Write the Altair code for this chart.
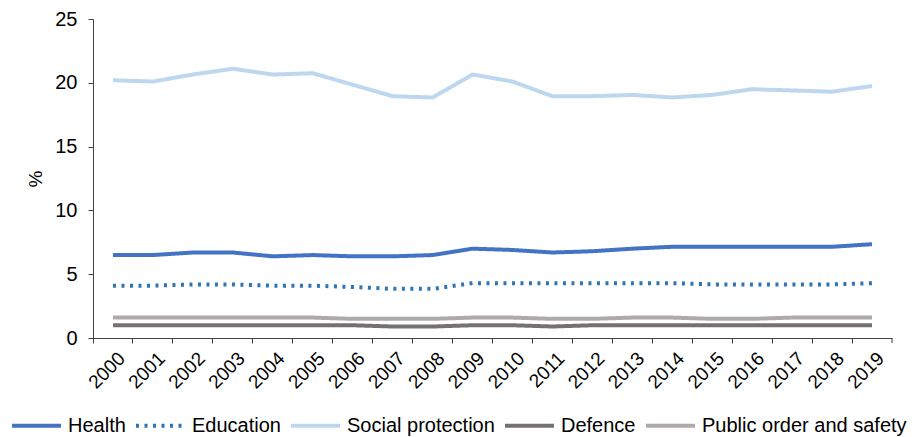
import altair as alt
import pandas as pd

years = ["2000", "2001", "2002", "2003", "2004", "2005", "2006", "2007", "2008", "2009",
         "2010", "2011", "2012", "2013", "2014", "2015", "2016", "2017", "2018", "2019"]
series = ["Health", "Education", "Social protection", "Defence", "Public order and safety"]

health = [6.5, 6.5, 6.7, 6.7, 6.4, 6.5, 6.4, 6.4, 6.5, 7.0, 6.9, 6.7, 6.8, 7.0, 7.15, 7.15, 7.15, 7.15, 7.15, 7.35]
education = [4.1, 4.1, 4.2, 4.2, 4.1, 4.1, 4.0, 3.85, 3.85, 4.3, 4.3, 4.3, 4.3, 4.3, 4.3, 4.2, 4.2, 4.2, 4.2, 4.3]
social = [20.2, 20.1, 20.65, 21.1, 20.65, 20.75, 19.85, 18.95, 18.85, 20.65, 20.1, 18.95, 18.95, 19.05, 18.85, 19.05, 19.5, 19.4, 19.3, 19.75]
defence = [1.0, 1.0, 1.0, 1.0, 1.0, 1.0, 1.0, 0.9, 0.9, 1.0, 1.0, 0.9, 1.0, 1.0, 1.0, 1.0, 1.0, 1.0, 1.0, 1.0]
public = [1.6, 1.6, 1.6, 1.6, 1.6, 1.6, 1.5, 1.5, 1.5, 1.6, 1.6, 1.5, 1.5, 1.6, 1.6, 1.5, 1.5, 1.6, 1.6, 1.6]

colors = ["#4472C4", "#2E75B6", "#BDD7EE", "#767171", "#AEAAAA"]
dashes = [[1, 0], [3, 5.5], [1, 0], [1, 0], [1, 0]]

rows = []
for name, vals in zip(series, [health, education, social, defence, public]):
    for yr, v in zip(years, vals):
        rows.append({"Year": yr, "Series": name, "Value": v})
df = pd.DataFrame(rows)

W, H = 799, 319
FONT = "Liberation Sans"
AX = "#404040"

legend_opts = dict(
    title=None, orient="none", legendX=-83, legendY=380, direction="horizontal",
    columns=5, symbolType="stroke", symbolSize=2401, symbolStrokeWidth=4,
    labelFont=FONT, labelFontSize=20, labelColor="#000000", labelOffset=5,
    columnPadding=2, padding=0, labelLimit=400,
)

lines = alt.Chart(df).mark_line(strokeWidth=4, strokeJoin="round").encode(
    x=alt.X("Year:O", sort=years,
            scale=alt.Scale(type="band", paddingInner=0, paddingOuter=0),
            axis=alt.Axis(title=None, labelAngle=-45, labelAlign="right", labelBaseline="middle",
                          bandPosition=0, labelOffset=9, tickSize=5, labelPadding=12,
                          labelFont=FONT, labelFontSize=19, labelColor="#000000",
                          domainColor=AX, tickColor=AX)),
    y=alt.Y("Value:Q", scale=alt.Scale(domain=[0, 25]),
            axis=alt.Axis(values=[0, 5, 10, 15, 20, 25], title="%", grid=False,
                          tickSize=5, labelPadding=11, labelFont=FONT, labelFontSize=20,
                          labelColor="#000000", domainColor=AX, tickColor=AX,
                          titleFont=FONT, titleFontSize=19, titleFontWeight="normal",
                          titleColor="#000000", titleAngle=270, titleX=-58, titleY=H / 2,
                          titleAlign="center", titleBaseline="middle")),
    color=alt.Color("Series:N", scale=alt.Scale(domain=series, range=colors),
                    legend=alt.Legend(**legend_opts)),
    strokeDash=alt.StrokeDash("Series:N", scale=alt.Scale(domain=series, range=dashes),
                              legend=alt.Legend(**legend_opts)),
)

end_tick = alt.Chart(pd.DataFrame({"k": [0]})).mark_rule(color=AX).encode(
    x=alt.value(W), y=alt.value(H), y2=alt.value(H + 5)
)

chart = alt.layer(lines, end_tick).properties(
    width=W, height=H, autosize="none",
    padding={"left": 93, "top": 19, "right": 20, "bottom": 99},
).configure_view(stroke=None)

chart.save("out.html", embed_options={"renderer": "svg", "actions": False})
